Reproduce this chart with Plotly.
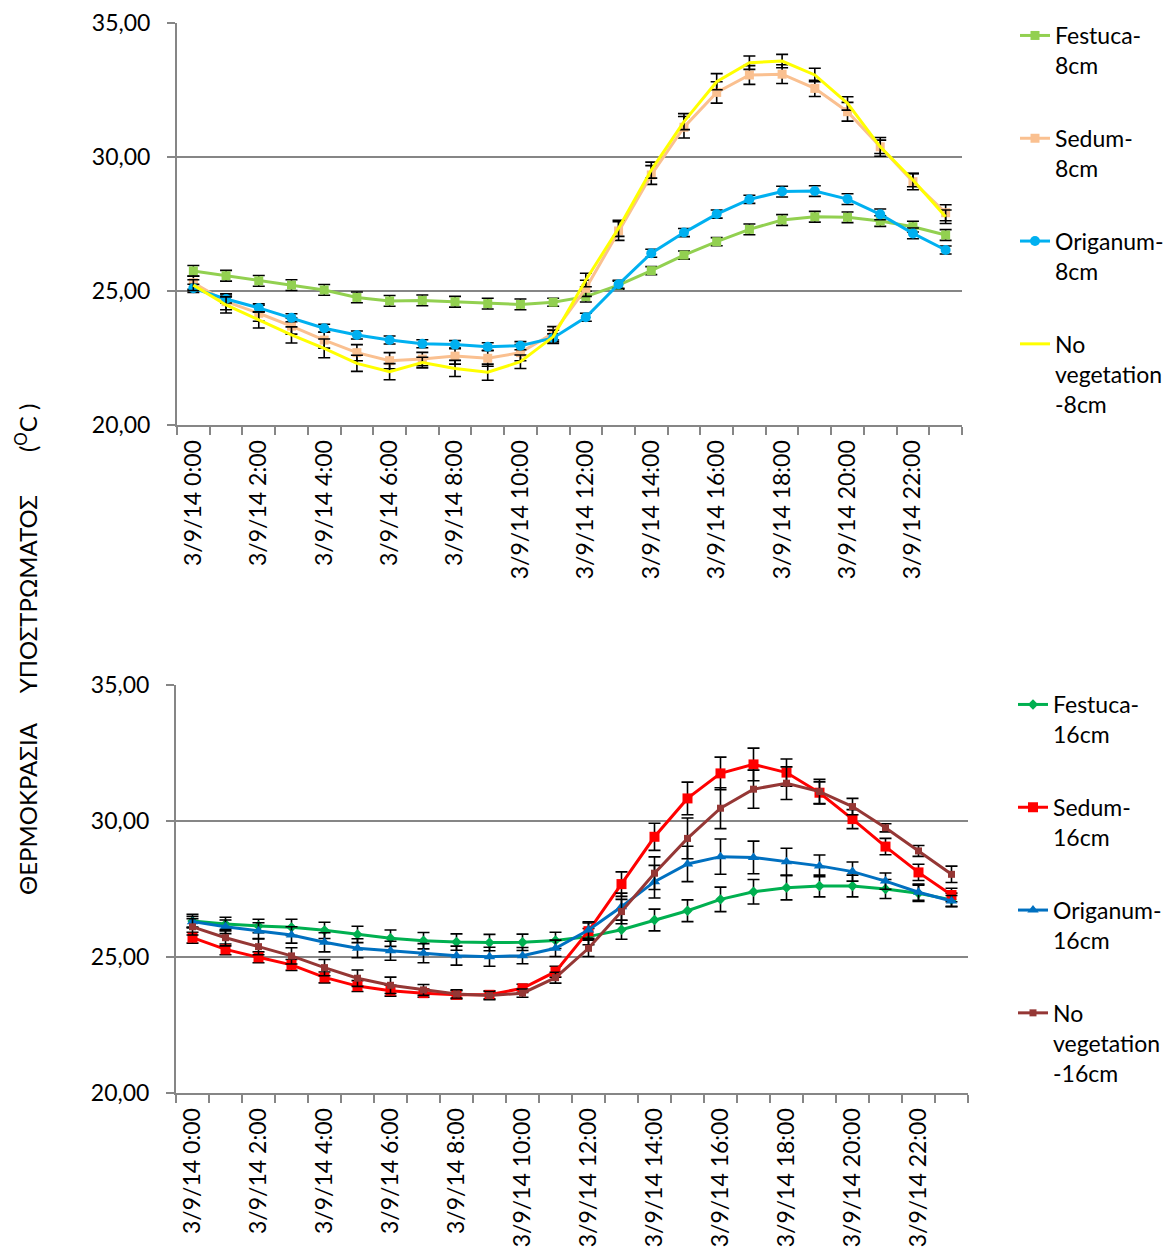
import plotly.graph_objects as go

categories = ["3/9/14 0:00", "3/9/14 1:00", "3/9/14 2:00", "3/9/14 3:00", "3/9/14 4:00", "3/9/14 5:00",
              "3/9/14 6:00", "3/9/14 7:00", "3/9/14 8:00", "3/9/14 9:00", "3/9/14 10:00", "3/9/14 11:00",
              "3/9/14 12:00", "3/9/14 13:00", "3/9/14 14:00", "3/9/14 15:00", "3/9/14 16:00", "3/9/14 17:00",
              "3/9/14 18:00", "3/9/14 19:00", "3/9/14 20:00", "3/9/14 21:00", "3/9/14 22:00", "3/9/14 23:00"]
tick_labels = ["3/9/14 0:00", " ", "3/9/14 2:00", " ", "3/9/14 4:00", " ", "3/9/14 6:00", " ", "3/9/14 8:00", " ",
               "3/9/14 10:00", " ", "3/9/14 12:00", " ", "3/9/14 14:00", " ", "3/9/14 16:00", " ", "3/9/14 18:00", " ",
               "3/9/14 20:00", " ", "3/9/14 22:00", " "]
y_ticks = [20, 25, 30, 35]
y_tick_labels = ["20,00", "25,00", "30,00", "35,00"]

# ---- top chart (8 cm) ----
festuca_8 = [25.75, 25.57, 25.38, 25.22, 25.04, 24.76, 24.63, 24.65, 24.60, 24.53, 24.50, 24.58,
             24.79, 25.22, 25.76, 26.34, 26.84, 27.30, 27.65, 27.77, 27.75, 27.61, 27.40, 27.09]
festuca_8_err = [0.2, 0.2, 0.2, 0.2, 0.2, 0.2, 0.2, 0.2, 0.2, 0.2, 0.2, 0.15,
                 0.2, 0.15, 0.15, 0.15, 0.15, 0.2, 0.2, 0.2, 0.2, 0.2, 0.2, 0.2]
sedum_8 = [25.31, 24.60, 24.17, 23.69, 23.17, 22.70, 22.40, 22.46, 22.57, 22.49, 22.70, 23.42,
           25.10, 27.24, 29.33, 31.11, 32.41, 33.06, 33.09, 32.56, 31.69, 30.38, 29.08, 27.92]
sedum_8_err = [0.25, 0.3, 0.3, 0.3, 0.3, 0.3, 0.3, 0.25, 0.3, 0.3, 0.3, 0.25,
               0.3, 0.35, 0.35, 0.4, 0.4, 0.35, 0.35, 0.3, 0.35, 0.35, 0.3, 0.3]
origanum_8 = [25.10, 24.70, 24.37, 24.00, 23.61, 23.36, 23.17, 23.03, 23.00, 22.92, 22.96, 23.25,
              24.02, 25.25, 26.41, 27.18, 27.87, 28.42, 28.71, 28.73, 28.43, 27.86, 27.15, 26.53]
origanum_8_err = [0.15, 0.15, 0.15, 0.15, 0.15, 0.15, 0.15, 0.15, 0.15, 0.15, 0.15, 0.15,
                  0.15, 0.15, 0.15, 0.15, 0.15, 0.15, 0.2, 0.2, 0.2, 0.2, 0.2, 0.15]
noveg_8 = [25.22, 24.48, 23.92, 23.36, 22.86, 22.30, 21.99, 22.33, 22.11, 21.97, 22.36, 23.29,
           25.41, 27.34, 29.51, 31.32, 32.81, 33.52, 33.58, 33.06, 32.00, 30.38, 29.14, 27.77]
noveg_8_err = [0.2, 0.3, 0.3, 0.3, 0.35, 0.3, 0.3, 0.2, 0.3, 0.3, 0.25, 0.25,
               0.25, 0.3, 0.3, 0.3, 0.3, 0.25, 0.25, 0.25, 0.25, 0.25, 0.25, 0.25]

# ---- bottom chart (16 cm) ----
festuca_16 = [26.32, 26.21, 26.14, 26.09, 25.98, 25.83, 25.69, 25.60, 25.55, 25.53, 25.54, 25.61,
              25.75, 26.00, 26.36, 26.70, 27.12, 27.40, 27.55, 27.61, 27.61, 27.50, 27.34, 27.10]
festuca_16_err = [0.25, 0.25, 0.25, 0.3, 0.3, 0.3, 0.3, 0.3, 0.3, 0.3, 0.3, 0.3,
                  0.3, 0.35, 0.4, 0.4, 0.45, 0.45, 0.45, 0.4, 0.4, 0.35, 0.3, 0.25]
sedum_16 = [25.71, 25.28, 24.99, 24.71, 24.25, 23.93, 23.76, 23.67, 23.61, 23.61, 23.85, 24.46,
            25.95, 27.68, 29.42, 30.83, 31.75, 32.08, 31.78, 31.04, 30.07, 29.06, 28.11, 27.28]
sedum_16_err = [0.2, 0.2, 0.2, 0.2, 0.2, 0.2, 0.2, 0.15, 0.15, 0.15, 0.15, 0.2,
                0.3, 0.45, 0.5, 0.6, 0.6, 0.6, 0.5, 0.4, 0.35, 0.3, 0.3, 0.25]
origanum_16 = [26.30, 26.11, 25.96, 25.81, 25.54, 25.32, 25.23, 25.14, 25.05, 25.01, 25.05, 25.32,
               25.99, 26.85, 27.77, 28.42, 28.69, 28.66, 28.50, 28.35, 28.14, 27.79, 27.38, 27.06]
origanum_16_err = [0.2, 0.25, 0.3, 0.3, 0.35, 0.35, 0.35, 0.35, 0.35, 0.35, 0.3, 0.3,
                   0.3, 0.5, 0.6, 0.65, 0.65, 0.6, 0.5, 0.4, 0.35, 0.3, 0.3, 0.2]
noveg_16 = [26.11, 25.71, 25.38, 25.04, 24.61, 24.22, 23.96, 23.79, 23.64, 23.58, 23.67, 24.24,
            25.32, 26.67, 28.08, 29.36, 30.47, 31.17, 31.39, 31.08, 30.53, 29.75, 28.90, 28.04]
noveg_16_err = [0.3, 0.3, 0.3, 0.3, 0.3, 0.3, 0.3, 0.2, 0.15, 0.15, 0.15, 0.2,
                0.3, 0.45, 0.6, 0.75, 0.75, 0.7, 0.6, 0.45, 0.3, 0.15, 0.2, 0.3]

FONT = "Lato"
FS = 23
W, H = 1176, 1254
GRAY = "#868686"
OFF = 8  # page body margin


def px(x):
    return (x - OFF) / W


def py(y):
    return 1 - (y - OFF) / H


fig = go.Figure()


def add(name, y, err, color, symbol, msize, axis, legend, group):
    fig.add_trace(go.Scatter(
        x=categories, y=y, name=name, mode="lines+markers" if symbol else "lines",
        line=dict(color=color, width=3),
        marker=dict(symbol=symbol or "circle", size=msize, color=color, line=dict(width=0)),
        error_y=dict(type="data", array=err, visible=True, color="black", thickness=1.6, width=6),
        xaxis="x" if axis == 1 else "x2", yaxis="y" if axis == 1 else "y2",
        legend=legend, legendgroup=group,
    ))


add("Festuca-<br>8cm", festuca_8, festuca_8_err, "#92D050", "square", 9, 1, "legend", "a1")
add("Sedum-<br>8cm", sedum_8, sedum_8_err, "#FAC090", "square", 9, 1, "legend", "a2")
add("Origanum-<br>8cm", origanum_8, origanum_8_err, "#00B0F0", "circle", 10, 1, "legend", "a3")
add("No<br>vegetation<br>-8cm", noveg_8, noveg_8_err, "#FFFF00", None, 1, 1, "legend", "a4")

add("Festuca-<br>16cm", festuca_16, festuca_16_err, "#00B050", "diamond", 8, 2, "legend2", "b1")
add("Sedum-<br>16cm", sedum_16, sedum_16_err, "#FF0000", "square", 10, 2, "legend2", "b2")
add("Origanum-<br>16cm", origanum_16, origanum_16_err, "#0070C0", "triangle-up", 10, 2, "legend2", "b3")
add("No<br>vegetation<br>-16cm", noveg_16, noveg_16_err, "#953735", "square", 7, 2, "legend2", "b4")


def xax(domain, anchor):
    return dict(domain=domain, anchor=anchor, type="category", categoryorder="array",
                categoryarray=categories, tickvals=categories, ticktext=tick_labels,
                range=[-0.5, len(categories) - 0.5], autorange=False,
                tickson="boundaries", ticks="outside", ticklen=8, tickcolor=GRAY, tickwidth=2,
                tickangle=-90, showline=True, linecolor=GRAY, linewidth=2, showgrid=False,
                zeroline=False, ticklabelstandoff=4, automargin=False,
                tickfont=dict(family=FONT, size=FS, color="black"))


def yax(domain, anchor):
    return dict(domain=domain, anchor=anchor, range=[20, 35], autorange=False,
                tickvals=y_ticks, ticktext=y_tick_labels,
                ticks="outside", ticklen=8, tickcolor=GRAY, tickwidth=2,
                showline=True, linecolor=GRAY, linewidth=2, showgrid=True, gridcolor=GRAY, gridwidth=2,
                zeroline=False, ticklabelstandoff=12, automargin=False,
                tickfont=dict(family=FONT, size=FS, color="black"))


fig.update_layout(
    width=W, height=H, margin=dict(l=0, r=0, t=0, b=0, autoexpand=False),
    paper_bgcolor="white", plot_bgcolor="white",
    font=dict(family=FONT, size=FS, color="black"),
    xaxis=xax([px(177), px(962)], "y"),
    yaxis=yax([py(425), py(23)], "x"),
    xaxis2=xax([px(176), px(968)], "y2"),
    yaxis2=yax([py(1093), py(685)], "x2"),
    legend=dict(x=px(1015), y=py(14), xanchor="left", yanchor="top", tracegroupgap=40,
                valign="top", itemwidth=30, bgcolor="rgba(0,0,0,0)",
                font=dict(family=FONT, size=FS, color="black")),
    legend2=dict(x=px(1013), y=py(683), xanchor="left", yanchor="top", tracegroupgap=40,
                 valign="top", itemwidth=30, bgcolor="rgba(0,0,0,0)",
                 font=dict(family=FONT, size=FS, color="black")),
    showlegend=True,
)

sp = "\u00a0"
fig.add_annotation(
    x=px(8), y=py(650), xref="paper", yref="paper", showarrow=False, textangle=-90,
    text="ΘΕΡΜΟΚΡΑΣΙΑ" + sp * 5 + "ΥΠΟΣΤΡΩΜΑΤΟΣ" + sp * 7 + "(<sup>O</sup>C )",
    font=dict(family=FONT, size=24, color="black"),
)

fig.write_html("out.html")
